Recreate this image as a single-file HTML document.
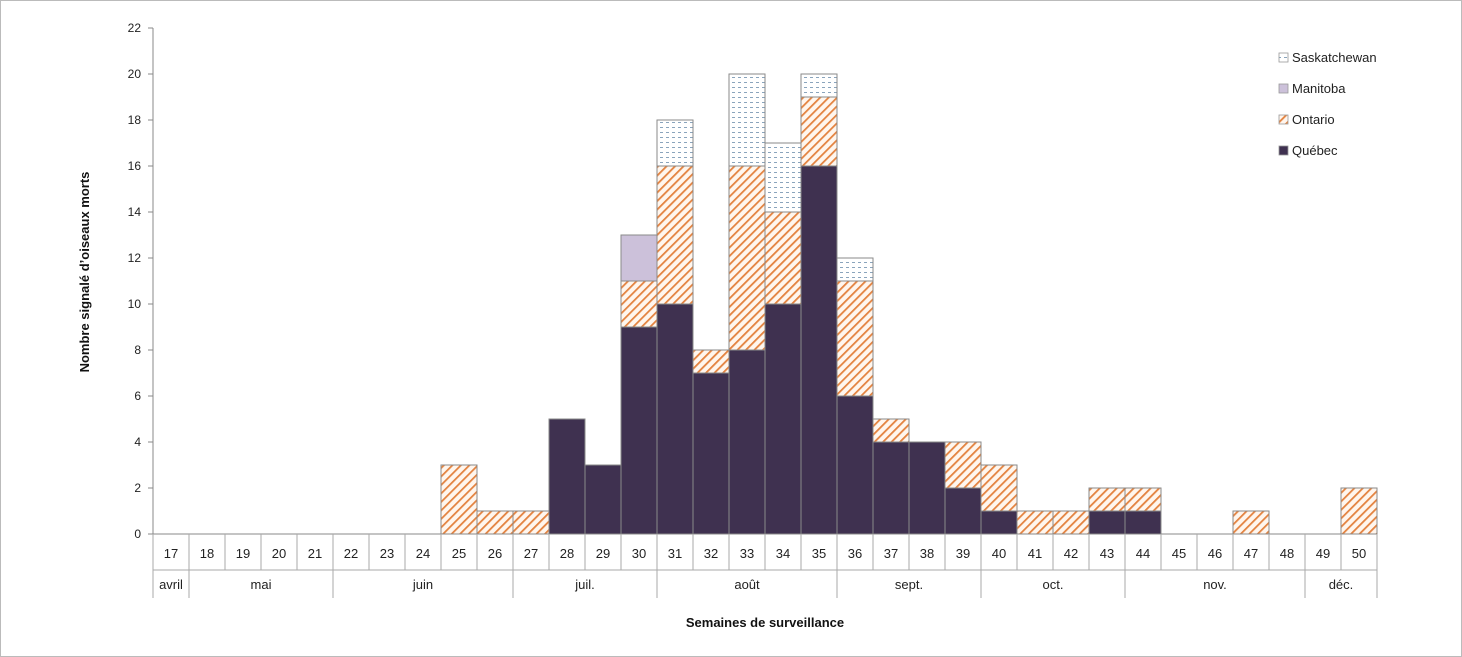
<!DOCTYPE html>
<html><head><meta charset="utf-8"><style>
body{margin:0;background:#fff;}
svg{display:block;font-family:"Liberation Sans",sans-serif;}
</style></head><body>
<svg id="c" width="1462" height="657">
<defs>
<pattern id="pOnt" patternUnits="userSpaceOnUse" width="6" height="6" patternTransform="rotate(45)">
<rect width="6" height="6" fill="#fff6ee"/><rect width="1.8" height="6" fill="#e3823f"/></pattern>
<pattern id="pSask" patternUnits="userSpaceOnUse" width="6" height="5">
<rect width="6" height="5" fill="#fff"/><rect x="0" y="2" width="3" height="1" fill="#8aa4bc"/></pattern>
</defs>
<rect x="0.5" y="0.5" width="1461" height="656" fill="none" stroke="#bbb"/>
<g id="g"></g>
</svg>
<script>
const weeks=[17,18,19,20,21,22,23,24,25,26,27,28,29,30,31,32,33,34,35,36,37,38,39,40,41,42,43,44,45,46,47,48,49,50];
const quebec=[0,0,0,0,0,0,0,0,0,0,0,5,3,9,10,7,8,10,16,6,4,4,2,1,0,0,1,1,0,0,0,0,0,0];
const ontario=[0,0,0,0,0,0,0,0,3,1,1,0,0,2,6,1,8,4,3,5,1,0,2,2,1,1,1,1,0,0,1,0,0,2];
const manitoba=[0,0,0,0,0,0,0,0,0,0,0,0,0,2,0,0,0,0,0,0,0,0,0,0,0,0,0,0,0,0,0,0,0,0];
const sask=[0,0,0,0,0,0,0,0,0,0,0,0,0,0,2,0,4,3,1,1,0,0,0,0,0,0,0,0,0,0,0,0,0,0];
const yTicks=[0,2,4,6,8,10,12,14,16,18,20,22];
const months=["avril","mai","juin","juil.","août","sept.","oct.","nov.","déc."];
const monthSpan=[1,4,5,4,5,4,4,5,2];
const X0=153,BW=36,Y0=534,YT=28,YMAX=22;
const NS="http://www.w3.org/2000/svg";
const g=document.getElementById('g');
function y(v){return Y0-(v/YMAX)*(Y0-YT);}
function x(i){return X0+i*BW;}
function mk(t,a,txt){const e=document.createElementNS(NS,t);for(const k in a)e.setAttribute(k,a[k]);if(txt!==undefined)e.textContent=txt;g.appendChild(e);return e;}
let e=mk('line',{x1:X0,y1:YT,x2:X0,y2:Y0,stroke:'#888'});


yTicks.forEach(t=>{
 mk('line',{x1:X0-5,y1:y(t),x2:X0,y2:y(t),stroke:'#888'});
 const l=mk('text',{x:X0-12,y:y(t)+4,'text-anchor':'end','font-size':12,fill:'#222'},t);
 
 
});
const series=[[quebec,'#3f3150','quebec'],[ontario,'url(#pOnt)','ontario'],[manitoba,'#ccc1da','manitoba'],[sask,'url(#pSask)','saskatchewan']];
weeks.forEach((w,i)=>{
 let base=0;
 series.forEach(([arr,fill,name])=>{
  const v=arr[i]; if(!v)return;
  const r=mk('rect',{x:x(i),y:y(base+v),width:BW,height:y(base)-y(base+v),fill:fill,stroke:'#8a8a8a','stroke-width':1});
  
  
  base+=v;
 });
});
mk('line',{x1:X0,y1:Y0,x2:x(weeks.length),y2:Y0,stroke:'#888'});
mk('line',{x1:X0,y1:570,x2:x(weeks.length),y2:570,stroke:'#aaa'});
weeks.forEach((w,i)=>{
 mk('line',{x1:x(i),y1:Y0,x2:x(i),y2:570,stroke:'#aaa'});
 const l=mk('text',{x:x(i)+BW/2,y:558,'text-anchor':'middle','font-size':13,fill:'#222'},w);
 
 
});
mk('line',{x1:x(weeks.length),y1:Y0,x2:x(weeks.length),y2:598,stroke:'#aaa'});
let idx=0;
months.forEach((m,k)=>{
 mk('line',{x1:x(idx),y1:570,x2:x(idx),y2:598,stroke:'#aaa'});
 const l=mk('text',{x:x(idx)+monthSpan[k]*BW/2,y:589,'text-anchor':'middle','font-size':13,fill:'#222'},m);
 
 
 idx+=monthSpan[k];
});
e=mk('text',{x:765,y:627,'text-anchor':'middle','font-size':13,'font-weight':'bold',fill:'#111'},'Semaines de surveillance');


e=mk('text',{x:0,y:0,'text-anchor':'middle','font-size':13,'font-weight':'bold',fill:'#111',transform:'translate(89,272) rotate(-90)'},'Nombre signalé d’oiseaux morts');


const leg=[['Saskatchewan','url(#pSask)'],['Manitoba','#ccc1da'],['Ontario','url(#pOnt)'],['Québec','#3f3150']];
leg.forEach(([n,f],k)=>{
 const yy=58+k*31;
 const r=mk('rect',{x:1279,y:yy-5,width:9,height:9,fill:f,stroke:'#999','stroke-width':0.8});
 
 
 const t=mk('text',{x:1292,y:yy+4,'font-size':13,fill:'#222'},n);
 
 
});
</script>
</body></html>
